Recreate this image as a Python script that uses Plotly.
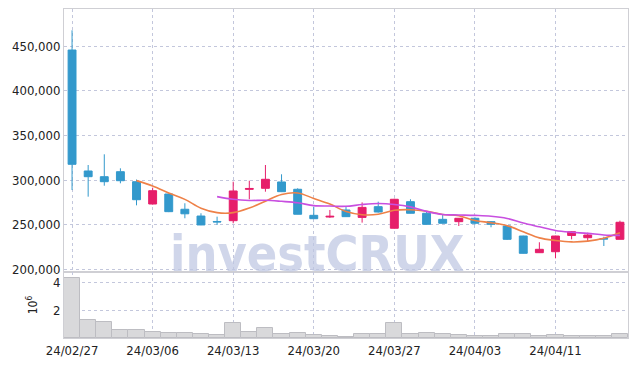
import plotly.graph_objects as go
from plotly.subplots import make_subplots

dates = ["24/02/27", "24/02/28", "24/02/29", "24/03/04", "24/03/05", "24/03/06", "24/03/07",
         "24/03/08", "24/03/11", "24/03/12", "24/03/13", "24/03/14", "24/03/15", "24/03/18",
         "24/03/19", "24/03/20", "24/03/21", "24/03/22", "24/03/25", "24/03/26", "24/03/27",
         "24/03/28", "24/03/29", "24/04/01", "24/04/02", "24/04/03", "24/04/04", "24/04/05",
         "24/04/08", "24/04/09", "24/04/11", "24/04/12", "24/04/15", "24/04/16", "24/04/17"]

open_ = [445700, 310100, 303700, 309300, 298100, 273100, 284300, 267200, 259600, 253500,
         254400, 289500, 290700, 297800, 289600, 260400, 258500, 266400, 258100, 270100,
         245900, 275700, 262700, 255900, 253300, 257100, 253300, 248400, 237200, 218500,
         219600, 237800, 235300, 234300, 233500]
high = [467800, 316800, 328800, 313100, 300500, 291400, 284800, 273900, 262700, 258900,
        298100, 299200, 316800, 306400, 290700, 270100, 266400, 270900, 274900, 275700,
        279000, 278400, 264500, 260800, 257300, 258200, 254000, 248700, 237500, 230200,
        237500, 242800, 240900, 236400, 254400]
low = [288800, 281300, 293600, 296300, 271600, 272500, 264000, 257100, 249400, 249600,
       251500, 278400, 286900, 286500, 261500, 256300, 257500, 258700, 252200, 263500,
       245500, 262500, 250200, 251200, 248400, 250100, 247000, 232800, 217500, 218300,
       212200, 233500, 230800, 226000, 233500]
close = [317600, 303700, 298100, 299200, 277900, 288000, 264500, 262100, 249600, 253000,
         287700, 290500, 300800, 286900, 261600, 256600, 259300, 258900, 269300, 264100,
         278400, 262700, 250300, 251500, 257100, 251500, 250300, 233500, 217800, 222300,
         237200, 242000, 238300, 233900, 252600]

ma5 = [None] * 4 + [299300, 293400, 285500, 278300, 268400, 263400, 263400, 268600, 276300,
                    283800, 285500, 279300, 273000, 264700, 261100, 261600, 266000, 266700,
                    265000, 261400, 260000, 254600, 252100, 248800, 242000, 235100, 232200,
                    230600, 231500, 234700, 240800]
ma10 = [None] * 9 + [281400, 278400, 277100, 277300, 276100, 274500, 271300, 270800, 270500,
                     272500, 273600, 272600, 269900, 264800, 261300, 260800, 260300, 259400,
                     256900, 251700, 247500, 243400, 241400, 240200, 238400, 237900]

volume = [4360000, 1280000, 1180000, 560000, 560000, 460000, 390000, 390000, 320000, 250000,
          1110000, 460000, 750000, 320000, 390000, 250000, 170000, 100000, 320000, 320000,
          1110000, 320000, 390000, 320000, 220000, 150000, 150000, 320000, 270000, 150000,
          220000, 150000, 150000, 150000, 320000]

x_tick_labels = ["24/02/27", "24/03/06", "24/03/13", "24/03/20", "24/03/27", "24/04/03", "24/04/11"]
price_ticks = [200000, 250000, 300000, 350000, 400000, 450000]
vol_ticks = [2000000, 4000000]
vol_tick_text = ["2", "4"]

UP = "#e61e6a"
DOWN = "#3399cc"
GRID = "#c3c7dc"
FONT = "DejaVu Sans Condensed, DejaVu Sans, sans-serif"
TICKFONT = dict(family=FONT, size=13, color="#222222")

fig = make_subplots(rows=2, cols=1, shared_xaxes=True, vertical_spacing=0)

fig.add_trace(go.Candlestick(
    x=dates, open=open_, high=high, low=low, close=close,
    increasing=dict(line=dict(color=UP, width=1), fillcolor=UP),
    decreasing=dict(line=dict(color=DOWN, width=1), fillcolor=DOWN),
    whiskerwidth=0, showlegend=False, hoverinfo="skip"), row=1, col=1)

fig.add_trace(go.Scatter(x=dates, y=ma5, mode="lines",
                         line=dict(color="#ee8148", width=1.6, shape="spline"),
                         showlegend=False, hoverinfo="skip"), row=1, col=1)
fig.add_trace(go.Scatter(x=dates, y=ma10, mode="lines",
                         line=dict(color="#c84fe0", width=1.6, shape="spline"),
                         showlegend=False, hoverinfo="skip"), row=1, col=1)

fig.add_trace(go.Bar(x=dates, y=volume,
                     marker=dict(color="#d9d9db", line=dict(color="#bdbdc2", width=1)),
                     showlegend=False, hoverinfo="skip"), row=2, col=1)

fig.update_layout(
    width=621, height=350,
    margin=dict(l=56, r=1, t=1, b=20),
    paper_bgcolor="white", plot_bgcolor="white",
    bargap=0,
    font=dict(family=FONT, size=13, color="#222222"),
    annotations=[dict(text="<b>investCRUX</b>", xref="paper", yref="paper",
                      x=0.449, y=0.255, xanchor="center", yanchor="middle",
                      showarrow=False,
                      font=dict(family=FONT, size=50, color="rgba(190,198,226,0.72)"))],
)

fig.update_xaxes(type="category", rangeslider=dict(visible=False), automargin=False,
                 showgrid=True, gridcolor=GRID, griddash="dot", gridwidth=1,
                 showline=True, linecolor="#cfcfd4", mirror=True,
                 tickvals=x_tick_labels, ticktext=x_tick_labels, ticks="",
                 range=[-0.5, len(dates) - 0.5])
fig.update_xaxes(showticklabels=False, row=1, col=1)
fig.update_xaxes(showticklabels=True, tickfont=TICKFONT, row=2, col=1)

fig.update_yaxes(domain=[0.2006, 1.0], range=[196860, 491700], tickvals=price_ticks,
                 tickformat=",d", showgrid=True, gridcolor=GRID, griddash="dot",
                 showline=True, linecolor="#cfcfd4", mirror=True, ticks="", automargin=False,
                 tickfont=TICKFONT, zeroline=False, row=1, col=1)
fig.update_yaxes(domain=[0.0, 0.2006], range=[0, 4790000], tickvals=vol_ticks,
                 ticktext=vol_tick_text, showgrid=True, gridcolor=GRID, griddash="dot",
                 showline=True, linecolor="#cfcfd4", mirror=True, ticks="", automargin=False,
                 tickfont=TICKFONT, zeroline=False,
                 title=dict(text="10<sup>6</sup>", standoff=12,
                            font=dict(family=FONT, size=12, color="#222222")), row=2, col=1)

fig.write_html("out.html")
